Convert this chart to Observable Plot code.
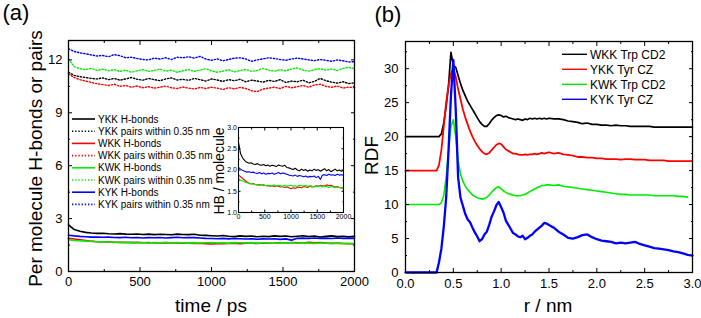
<!DOCTYPE html>
<html>
<head>
<meta charset="utf-8">
<script src="https://cdn.jsdelivr.net/npm/d3@7"></script>
<script src="https://cdn.jsdelivr.net/npm/@observablehq/plot@0.6"></script>
<style>
  body { margin: 0; background: #fff; }
  #fig { position: relative; width: 701px; height: 318px; overflow: hidden; background: #fff;
         font-family: "Liberation Sans", Arial, sans-serif; color: #000; }
  #fig svg { position: absolute; }
  .lbl { position: absolute; white-space: nowrap; line-height: 1; font-size: 19px; font-weight: normal;
         text-align: center; width: 300px; }
  .rot { transform-origin: 150px 50%; transform: rotate(-90deg); }
</style>
</head>
<body>
<div id="fig"></div>
<script>
// ---------- (a) H-bonds and close pairs per molecule vs. time ----------
const time = d3.range(0, 2001, 40); // ps

const ykkHB = [2.65,2.38,2.28,2.22,2.18,2.16,2.17,2.14,2.13,2.15,
  2.12,2.11,2.13,2.10,2.12,2.09,2.11,2.10,2.08,2.12,
  2.10,2.09,2.11,2.06,2.05,2.03,2.01,2.04,2.00,1.98,
  2.02,1.99,2.01,1.97,2.00,1.98,2.02,1.99,2.01,1.97,
  2.00,2.03,1.98,2.01,1.96,1.99,2.02,1.98,2.00,1.97,1.99];
const ykkPairs = [11.30,11.12,11.05,11.00,10.95,10.92,10.98,10.88,10.95,10.85,
  10.92,11.00,10.90,10.85,10.95,10.88,10.82,10.92,10.98,10.86,
  10.90,10.84,10.95,10.88,10.80,10.92,10.86,10.78,10.88,10.82,
  10.90,10.76,10.85,10.80,10.74,10.84,10.78,10.88,10.72,10.80,
  10.76,10.85,10.70,10.78,10.95,10.82,10.74,10.68,10.76,10.66,10.70];
const wkkHB = [1.88,1.84,1.80,1.76,1.72,1.69,1.67,1.68,1.66,1.65,
  1.66,1.64,1.65,1.63,1.64,1.62,1.63,1.61,1.63,1.62,
  1.60,1.61,1.59,1.60,1.58,1.56,1.58,1.57,1.59,1.60,
  1.58,1.61,1.60,1.59,1.62,1.60,1.61,1.63,1.62,1.64,
  1.63,1.62,1.65,1.63,1.64,1.62,1.60,1.61,1.59,1.58,1.57];
const wkkPairs = [11.20,11.00,10.88,10.80,10.72,10.65,10.60,10.55,10.62,10.50,
  10.55,10.45,10.52,10.42,10.48,10.40,10.45,10.52,10.42,10.38,
  10.46,10.40,10.35,10.44,10.38,10.45,10.40,10.32,10.42,10.36,
  10.44,10.38,10.25,10.20,10.35,10.40,10.45,10.38,10.50,10.42,
  10.48,10.55,10.45,10.58,10.62,10.50,10.45,10.52,10.40,10.46,10.42];
const kwkHB = [1.80,1.76,1.74,1.72,1.70,1.69,1.68,1.67,1.66,1.65,
  1.64,1.65,1.63,1.64,1.62,1.64,1.63,1.65,1.62,1.64,
  1.63,1.61,1.64,1.62,1.63,1.64,1.62,1.63,1.61,1.64,
  1.63,1.62,1.64,1.61,1.63,1.62,1.60,1.62,1.61,1.63,
  1.60,1.62,1.61,1.59,1.61,1.60,1.58,1.60,1.59,1.58,1.57];
const kwkPairs = [12.05,11.62,11.50,11.45,11.52,11.40,11.48,11.38,11.45,11.35,
  11.42,11.30,11.38,11.45,11.35,11.40,11.48,11.36,11.42,11.30,
  11.38,11.45,11.35,11.42,11.50,11.38,11.30,11.36,11.44,11.32,
  11.40,11.46,11.35,11.40,11.52,11.42,11.36,11.45,11.38,11.48,
  11.55,11.42,11.36,11.45,11.50,11.42,11.48,11.40,11.52,11.58,11.50];
const kykHB = [2.06,2.02,1.99,1.97,1.95,1.96,1.94,1.95,1.93,1.92,
  1.94,1.91,1.93,1.90,1.92,1.91,1.93,1.90,1.92,1.94,
  1.91,1.93,1.92,1.90,1.88,1.87,1.86,1.88,1.85,1.87,
  1.86,1.84,1.86,1.83,1.85,1.84,1.86,1.82,1.85,1.78,
  1.88,1.89,1.87,1.90,1.88,1.89,1.87,1.90,1.88,1.89,1.88];
const kykPairs = [12.62,12.48,12.40,12.35,12.28,12.22,12.25,12.18,12.30,12.24,
  12.12,12.15,12.08,12.02,12.00,12.10,12.05,12.12,12.02,12.15,
  12.12,12.18,12.10,12.20,12.05,11.98,12.05,11.95,12.02,12.10,
  12.12,12.05,11.92,12.00,12.06,12.12,12.08,12.02,11.98,12.05,
  12.10,12.05,12.00,11.96,12.02,11.98,11.92,12.00,11.95,11.88,11.90];

const seriesNamesA = ["YKK H-bonds", "YKK pairs within 0.35 nm", "WKK H-bonds", "WKK pairs within 0.35 nm",
                      "KWK H-bonds", "KWK pairs within 0.35 nm", "KYK H-bonds", "KYK pairs within 0.35 nm"];
const seriesColorsA = ["#000000", "#000000", "#ff0000", "#ff0000", "#00ee00", "#00ee00", "#0000ff", "#0000ff"];
const seriesDottedA = [false, true, false, true, false, true, false, true];
const seriesValuesA = [ykkHB, ykkPairs, wkkHB, wkkPairs, kwkHB, kwkPairs, kykHB, kykPairs];

const timeTicks = [0, 500, 1000, 1500, 2000];
const timeMinor = [250, 750, 1250, 1750];
const countTicks = [0, 3, 6, 9, 12];
const countMinor = [1.5, 4.5, 7.5, 10.5];
const hbTicks = [1.0, 1.5, 2.0, 2.5, 3.0];
const hbMinor = [1.25, 1.75, 2.25, 2.75];

// ---------- (b) radial distribution functions (offset curves) ----------
const rGrid = [0, 0.1, 0.2, 0.3,
  ...d3.range(13, 61).map(i => i * 0.025),
  ...d3.range(31, 61).map(i => i * 0.05)];

const rdfWKK = [20,20,20,20,
  20,20,20.4,22,24.5,27.5,32.4,30.5,30.2,29.0,
  27.8,26.8,26.0,25.2,24.6,24.0,23.4,22.8,22.2,21.8,
  21.5,21.5,21.9,22.4,22.8,23.1,23.2,23.1,22.9,23.0,
  22.8,22.7,22.6,22.5,22.6,22.5,22.4,22.6,22.5,22.7,
  22.6,22.7,22.6,22.7,22.6,22.7,22.6,22.7,
  22.6,22.6,22.5,22.3,22.2,22.1,21.9,22.0,21.8,21.8,
  21.7,21.7,21.6,21.7,21.6,21.6,21.5,21.5,21.5,21.5,
  21.5,21.4,21.4,21.4,21.4,21.4,21.4,21.4,21.4,21.4];
const rdfYKK = [15,15,15,15,
  15,15.8,18,21.5,25,27.5,29.3,30,28.8,27,
  25.5,24,22.8,21.8,20.8,20.0,19.3,18.7,18.2,17.8,
  17.5,17.4,17.6,18.0,18.4,18.8,19.0,18.9,18.5,18.1,
  17.9,17.7,17.5,17.5,17.4,17.3,17.3,17.4,17.3,17.4,
  17.4,17.5,17.4,17.5,17.6,17.5,17.6,17.7,
  17.5,17.6,17.4,17.3,17.2,17.0,17.0,16.9,16.9,16.8,
  16.8,16.7,16.7,16.7,16.6,16.7,16.7,16.6,16.6,16.6,
  16.5,16.5,16.5,16.5,16.4,16.4,16.4,16.4,16.4,16.4];
const rdfKWK = [10,10,10,10,
  10,10,10.3,11.3,14,18,21.5,22.5,20,16.5,
  14.5,13.4,12.7,12.2,11.8,11.4,11.2,11.0,10.9,10.8,
  10.9,11.1,11.4,11.8,12.2,12.5,12.6,12.3,12.0,11.8,
  11.6,11.5,11.4,11.3,11.3,11.3,11.4,11.5,11.7,11.9,
  12.1,12.3,12.5,12.6,12.8,12.8,12.9,12.9,
  12.8,12.9,12.7,12.6,12.5,12.4,12.3,12.2,12.1,12.0,
  11.9,11.8,11.7,11.6,11.5,11.5,11.4,11.4,11.4,11.4,
  11.4,11.3,11.3,11.3,11.3,11.3,11.2,11.2,11.1,null];
const rdfKYK = [0,0,0,0,
  0,1.5,3.5,6.7,11,18,26,31.3,24,14,
  11,9.8,8.6,7.8,7.4,6.6,5.9,5.3,4.6,4.9,
  5.6,6.0,7.0,8.2,9.0,9.9,10.4,9.6,8.8,7.6,
  7.0,6.4,5.8,5.6,5.3,5.2,5.4,4.9,5.1,5.4,
  5.6,6.0,6.3,6.6,6.9,7.3,7.2,7.0,
  6.6,6.0,5.6,5.1,5.0,5.2,5.5,5.6,5.2,4.9,
  4.7,4.6,4.5,4.3,4.4,4.3,4.4,4.5,4.2,4.0,
  3.8,3.6,3.5,3.4,3.3,3.1,3.0,2.8,2.6,2.5];

const seriesNamesB = ["WKK Trp CD2", "YKK Tyr CZ", "KWK Trp CD2", "KYK Tyr CZ"];
const seriesColorsB = ["#000000", "#ff0000", "#00ee00", "#0000ff"];
const seriesWidthsB = [1.7, 1.8, 1.6, 2.3];
const seriesValuesB = [rdfWKK, rdfYKK, rdfKWK, rdfKYK];

const rTicks = [0, 0.5, 1.0, 1.5, 2.0, 2.5, 3.0];
const rMinor = [0.25, 0.75, 1.25, 1.75, 2.25, 2.75];
const gTicks = [0, 5, 10, 15, 20, 25, 30];
const gMinor = [2.5, 7.5, 12.5, 17.5, 22.5, 27.5, 32.5];

// ---------- helpers ----------
const fig = document.getElementById("fig");
const blank = () => "";
const intFmt = d3.format("d");

function boxAxes(xMajor, xMinor, yMajor, yMinor, opts) {
  const {tick = 4, minor = 2, xFmt = intFmt, yFmt = intFmt, xPad, yPad} = opts;
  return [
    Plot.axisX(xMajor, {anchor: "bottom", tickSize: -tick, tickPadding: xPad + tick, tickFormat: xFmt, label: null}),
    Plot.axisX(xMinor, {anchor: "bottom", tickSize: -minor, tickFormat: blank, label: null}),
    Plot.axisX(xMajor, {anchor: "top", tickSize: -tick, tickFormat: blank, label: null}),
    Plot.axisX(xMinor, {anchor: "top", tickSize: -minor, tickFormat: blank, label: null}),
    Plot.axisY(yMajor, {anchor: "left", tickSize: -tick, tickPadding: yPad + tick, tickFormat: yFmt, label: null}),
    Plot.axisY(yMinor, {anchor: "left", tickSize: -minor, tickFormat: blank, label: null}),
    Plot.axisY(yMajor, {anchor: "right", tickSize: -tick, tickFormat: blank, label: null}),
    Plot.axisY(yMinor, {anchor: "right", tickSize: -minor, tickFormat: blank, label: null})
  ];
}

function seriesLine(values, xs, width, dashed, color) {
  const rows = xs.map((x, j) => ({x, y: values[j]}));
  return Plot.line(rows, {
    x: "x", y: "y", stroke: color, strokeWidth: width,
    strokeDasharray: dashed ? "1.3,1.9" : null
  });
}

function place(svg, left, top) {
  svg.style.left = left + "px";
  svg.style.top = top + "px";
  fig.appendChild(svg);
}

const plotStyle = size => ({fontSize: size, fontFamily: "Liberation Sans, Arial, sans-serif",
                            background: "transparent", overflow: "visible"});

// ---------- panel (a) main ----------
const plotA = Plot.plot({
  width: 360, height: 318,
  marginLeft: 68, marginRight: 6, marginTop: 40, marginBottom: 47,
  style: plotStyle("13px"),
  x: {domain: [0, 2000], label: null},
  y: {domain: [0, 13.1], label: null},
  marks: [
    ...seriesValuesA.map((v, i) => seriesLine(v, time, seriesDottedA[i] ? 1.4 : 1.6, seriesDottedA[i], seriesColorsA[i])),
    Plot.frame({strokeWidth: 1.3}),
    ...boxAxes(timeTicks, timeMinor, countTicks, countMinor, {xPad: 5, yPad: 6})
  ]
});
place(plotA, 0, 0);

// ---------- panel (a) inset: H-bonds only ----------
const insetIdx = [0, 6, 2, 4];
const plotInset = Plot.plot({
  width: 150, height: 110,
  marginLeft: 33, marginRight: 12, marginTop: 7, marginBottom: 18,
  style: plotStyle("7px"),
  x: {domain: [0, 2000], label: null},
  y: {domain: [1.0, 3.0], label: null},
  marks: [
    Plot.frame({fill: "#fff"}),
    ...insetIdx.map(i => seriesLine(seriesValuesA[i], time, 1.1, false, seriesColorsA[i])),
    Plot.frame({strokeWidth: 1.1}),
    ...boxAxes(timeTicks, timeMinor, hbTicks, hbMinor, {tick: 2.5, minor: 1.5, yFmt: d3.format(".1f"), xPad: 2, yPad: 1.5})
  ]
});
place(plotInset, 205, 120);

// ---------- panel (b) ----------
const plotB = Plot.plot({
  width: 351, height: 318,
  marginLeft: 55, marginRight: 9, marginTop: 41, marginBottom: 46,
  style: plotStyle("13px"),
  x: {domain: [0, 3], label: null},
  y: {domain: [0, 34], label: null},
  marks: [
    ...seriesValuesB.map((v, i) => seriesLine(v, rGrid, seriesWidthsB[i], false, seriesColorsB[i])),
    Plot.frame({strokeWidth: 1.3}),
    ...boxAxes(rTicks, rMinor, gTicks, gMinor, {xFmt: d3.format(".1f"), xPad: 6, yPad: 7})
  ]
});
place(plotB, 350, 0);

// ---------- legends ----------
const leg = d3.select(fig).append("svg")
  .attr("width", 701).attr("height", 318)
  .style("left", "0px").style("top", "0px")
  .style("font-family", "Liberation Sans, Arial, sans-serif");

seriesNamesA.forEach((name, i) => {
  const y = 119 + i * 12.2;
  leg.append("line").attr("x1", 72).attr("x2", 95).attr("y1", y).attr("y2", y)
    .attr("stroke", seriesColorsA[i]).attr("stroke-width", 1.6)
    .attr("stroke-dasharray", seriesDottedA[i] ? "1.3,1.9" : null);
  leg.append("text").attr("x", 98).attr("y", y).attr("dy", "0.35em")
    .attr("font-size", 10).text(name);
});

seriesNamesB.forEach((name, i) => {
  const y = 54.3 + i * 15;
  leg.append("line").attr("x1", 562).attr("x2", 587).attr("y1", y).attr("y2", y)
    .attr("stroke", seriesColorsB[i]).attr("stroke-width", 1.4);
  leg.append("text").attr("x", 590).attr("y", y).attr("dy", "0.35em")
    .attr("font-size", 12).text(name);
});

// ---------- titles and panel letters (centred at whole-pixel positions) ----------
function label(text, cx, cy, rotated, size) {
  const d = document.createElement("div");
  d.className = "lbl" + (rotated ? " rot" : "");
  d.textContent = text;
  d.style.fontSize = size + "px";
  d.style.left = Math.round(cx - 150) + "px";
  d.style.top = Math.round(cy - size / 2) + "px";
  fig.appendChild(d);
}
label("(a)", 16, 13, false, 22);
label("(b)", 388, 15, false, 22);
label("Per molecule H-bonds or pairs", 35, 158, true, 19);
label("time / ps", 211, 305, false, 19);
label("HB / molecule", 219, 171, true, 14);
label("RDF", 371, 155, true, 19);
label("r / nm", 548, 305, false, 19);
</script>
</body>
</html>
